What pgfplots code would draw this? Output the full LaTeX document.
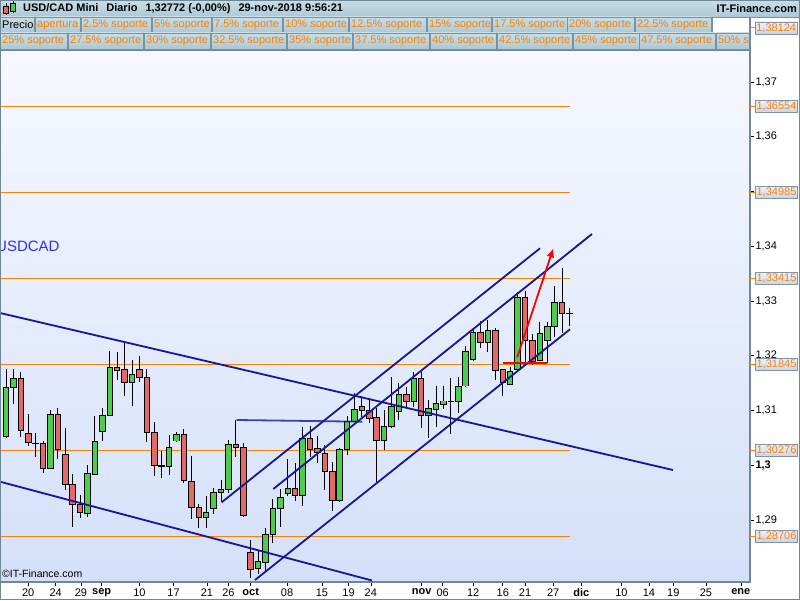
\documentclass[border=0pt]{standalone}
\usepackage{pgfplots}
\pgfplotsset{compat=1.18}
\usepackage{pgfplotstable}
\usepackage{fontspec}
\setmainfont{Liberation Sans}
\usetikzlibrary{arrows.meta}

\definecolor{upg}{RGB}{76,205,76}
\definecolor{dnr}{RGB}{228,104,104}
\definecolor{trend}{RGB}{22,22,150}
\definecolor{lvl}{RGB}{255,128,0}
\definecolor{hdrtop}{RGB}{200,222,230}
\definecolor{hdrbot}{RGB}{172,200,214}
\definecolor{hdrline}{RGB}{120,146,160}
\definecolor{axgray}{RGB}{112,136,150}
\definecolor{bgtop}{RGB}{246,248,254}
\definecolor{bgbot}{RGB}{212,224,250}
\definecolor{usdblue}{RGB}{50,50,230}
\definecolor{boxline}{RGB}{128,148,168}
\definecolor{boxtop}{RGB}{238,242,252}
\definecolor{boxbot}{RGB}{200,212,236}

% daily candles, i = trading day (0 = 1 oct 2018)
\pgfplotstableread{
i o h l c
-33 1.30521 1.31753 1.30503 1.31424
-32 1.31424 1.31753 1.31119 1.31588
-27 1.29944 1.31009 1.29926 1.30931
-22 1.29122 1.30005 1.29049 1.29853
-21 1.29835 1.30900 1.29822 1.30443
-20 1.30620 1.31040 1.30448 1.30918
-19 1.30912 1.32087 1.30900 1.31789
-16 1.31515 1.31922 1.31088 1.31667
-11 1.29986 1.30553 1.29822 1.30328
-10 1.30443 1.30607 1.30434 1.30565
-6 1.29049 1.29438 1.28859 1.29141
-5 1.29214 1.29579 1.29110 1.29506
-4 1.29506 1.29731 1.29323 1.29553
-3 1.29561 1.30461 1.29488 1.30383
1 1.28118 1.28434 1.28008 1.28238
2 1.28227 1.28848 1.28068 1.28739
3 1.28739 1.29384 1.28574 1.29214
4 1.29214 1.29561 1.28878 1.29415
5 1.29488 1.30114 1.29444 1.29579
7 1.29444 1.30693 1.29261 1.30492
12 1.29353 1.30310 1.29334 1.30291
13 1.30291 1.30905 1.30187 1.30795
14 1.30795 1.31314 1.30790 1.31022
18 1.30448 1.31009 1.30279 1.30717
19 1.30704 1.31617 1.30686 1.31082
20 1.30978 1.31497 1.30827 1.31301
22 1.31161 1.31698 1.31069 1.31588
24 1.30918 1.31192 1.30492 1.31040
25 1.31027 1.31453 1.30704 1.31119
26 1.31119 1.31453 1.31022 1.31174
28 1.31161 1.31617 1.30949 1.31448
29 1.31448 1.32184 1.31435 1.32087
30 1.31935 1.32501 1.31904 1.32428
32 1.32246 1.32653 1.32074 1.32470
35 1.31479 1.31800 1.31466 1.31721
36 1.31740 1.33170 1.31709 1.33068
39 1.31922 1.32622 1.31910 1.32410
40 1.32288 1.32622 1.31862 1.32543
41 1.32543 1.33280 1.32348 1.32976
}\up

\pgfplotstableread{
i o h l c
-31 1.31588 1.31698 1.30521 1.30626
-30 1.30584 1.30936 1.30352 1.30419
-29 1.30401 1.30584 1.30145 1.30398
-28 1.30401 1.30448 1.29864 1.29944
-26 1.30931 1.31040 1.30109 1.30279
-25 1.30200 1.30675 1.29548 1.29652
-24 1.29652 1.29835 1.28878 1.29287
-23 1.29292 1.29457 1.29031 1.29141
-18 1.31789 1.32063 1.31557 1.31727
-17 1.31753 1.32257 1.31270 1.31515
-15 1.31753 1.31995 1.31526 1.31606
-14 1.31606 1.31753 1.30419 1.30602
-13 1.30602 1.30784 1.29809 1.29992
-12 1.29992 1.30260 1.29762 1.29988
-9 1.30565 1.30662 1.29681 1.29718
-8 1.29700 1.30169 1.29018 1.29232
-7 1.29225 1.29287 1.28848 1.29049
-2 1.30383 1.30827 1.30156 1.30328
-1 1.30328 1.30401 1.29060 1.29091
0 1.28410 1.28635 1.27941 1.28105
6 1.29579 1.30036 1.29353 1.29444
8 1.30492 1.30722 1.30156 1.30297
9 1.30310 1.30534 1.30036 1.30237
10 1.30218 1.30370 1.29548 1.29882
11 1.29895 1.30054 1.29170 1.29353
15 1.31082 1.31265 1.30887 1.30996
16 1.30996 1.31223 1.30777 1.30858
17 1.30876 1.31040 1.29700 1.30448
21 1.31296 1.31435 1.31069 1.31161
23 1.31588 1.31698 1.30686 1.30918
27 1.31174 1.31588 1.30565 1.31170
31 1.32428 1.32635 1.32147 1.32246
33 1.32470 1.32501 1.31557 1.31740
34 1.31740 1.31745 1.31270 1.31508
37 1.33068 1.33183 1.31831 1.32288
38 1.32288 1.32392 1.31831 1.31904
42 1.32976 1.33597 1.32421 1.32775
43 1.32775 1.32867 1.32543 1.32772
}\down

\tikzset{
  lbox/.style={draw=boxline, top color=boxtop, bottom color=boxbot, text=lvl,
    minimum width=42pt, minimum height=12pt, inner sep=0pt, font=\fontsize{11}{12}\selectfont},
}
\pgfplotsset{
  nomark/.style={only marks, mark=*, mark size=0pt, mark options={draw=none, fill=none}, forget plot},
  wick/.style={nomark, error bars/.cd, y dir=both, y explicit,
    error mark=none, error bar style={draw=black, line width=1pt}},
  bodyout/.style={nomark, error bars/.cd, y dir=both, y explicit,
    error mark=none, error bar style={draw=black, line width=6.5pt}},
  bodyin/.style={nomark, error bars/.cd, y dir=both, y explicit,
    error mark=none, error bar style={draw=#1, line width=4.5pt}},
}

\begin{document}
\begin{tikzpicture}[x=1pt, y=1pt, font=\fontsize{11}{13}\selectfont]
\useasboundingbox (0,0) rectangle (800,600);
\fill[white] (0,0) rectangle (800,600);

\begin{axis}[
  at={(0pt,18pt)}, anchor=south west,
  scale only axis, width=750pt, height=532pt,
  xmin=-33.81, xmax=67.34, ymin=1.278676, ymax=1.375845,
  clip=false,
  axis background/.style={shade, top color=bgtop, bottom color=bgbot},
  axis line style={axgray, line width=1.2pt},
  tick style={black, line width=0.6pt},
  tick align=outside, major tick length=4pt,
  xtick pos=left, ytick pos=right, yticklabel pos=right,
  xtick={-30,-26.3,-22.9,-20.1,-15,-10.4,-5.9,-3,0,4.9,9.6,13.2,16.2,23.06,25.9,30,34,37,40.8,44.6,50,53.7,57,61.4,66.1},
  xticklabels={20,24,29,\textbf{sep},10,17,21,26,\textbf{oct},08,15,19,24,\textbf{nov},06,12,16,21,27,\textbf{dic},10,14,19,25,\textbf{ene}},
  ytick={1.29,1.30,1.31,1.32,1.33,1.34,1.35,1.36,1.37},
  yticklabels={{1,29},{\textbf{1,3}},{1,31},{1,32},{1,33},{1,34},{},{1,36},{1,37}},
  ticklabel style={font=\fontsize{11}{13}\selectfont, text=black},
  yticklabel style={anchor=west, xshift=-2pt},
  xticklabel style={yshift=1pt},
]

% support levels
\addplot[lvl, line width=1pt] coordinates {(-33.81,1.36554) (43,1.36554)};
\addplot[lvl, line width=1pt] coordinates {(-33.81,1.34985) (43,1.34985)};
\addplot[lvl, line width=1pt] coordinates {(-33.81,1.33415) (43,1.33415)};
\addplot[lvl, line width=1pt] coordinates {(-33.81,1.31845) (43,1.31845)};
\addplot[lvl, line width=1pt] coordinates {(-33.81,1.30276) (43,1.30276)};
\addplot[lvl, line width=1pt] coordinates {(-33.81,1.28706) (43,1.28706)};

% wicks
\addplot[wick] table[x=i, y expr={(\thisrow{h}+\thisrow{l})/2}, y error expr={(\thisrow{h}-\thisrow{l})/2}] {\up};
\addplot[wick] table[x=i, y expr={(\thisrow{h}+\thisrow{l})/2}, y error expr={(\thisrow{h}-\thisrow{l})/2}] {\down};
% bodies
\addplot[bodyout] table[x=i, y expr={(\thisrow{o}+\thisrow{c})/2}, y error expr={abs(\thisrow{c}-\thisrow{o})/2+0.00009}] {\up};
\addplot[bodyout] table[x=i, y expr={(\thisrow{o}+\thisrow{c})/2}, y error expr={abs(\thisrow{c}-\thisrow{o})/2+0.00009}] {\down};
\addplot[bodyin=upg] table[x=i, y expr={(\thisrow{o}+\thisrow{c})/2}, y error expr={max(abs(\thisrow{c}-\thisrow{o})/2-0.00009,0)}] {\up};
\addplot[bodyin=dnr] table[x=i, y expr={(\thisrow{o}+\thisrow{c})/2}, y error expr={max(abs(\thisrow{c}-\thisrow{o})/2-0.00009,0)}] {\down};

% trend lines
\addplot[trend, line width=1.8pt] coordinates {(-33.81,1.32781) (56.95,1.29913)};
\addplot[trend, line width=1.8pt] coordinates {(-33.81,1.296995) (16.36,1.27895)};
\addplot[trend, line width=1.8pt, opacity=0.8] coordinates {(-1.89,1.308265) (15.05,1.307954)};
\addplot[trend, line width=1.8pt] coordinates {(-3.91,1.293233) (39.02,1.339626)};
\addplot[trend, line width=1.8pt] coordinates {(3.05,1.295662) (46.03,1.342237)};
\addplot[trend, line width=1.8pt] coordinates {(0.58,1.279041) (43.06,1.324831)};

% red target
\addplot[red, line width=1.8pt] coordinates {(34.07,1.31873) (39.92,1.31873)};
\addplot[red, line width=1.8pt, -{Latex[length=9pt,width=8pt]}] coordinates {(35.95,1.319717) (40.81,1.339626)};

% level labels
\draw[lvl, line width=1pt] (axis cs:67.34,1.36554) -- ++(5pt,0pt) node[lbox, anchor=west] {1,36554};
\draw[lvl, line width=1pt] (axis cs:67.34,1.34985) -- ++(5pt,0pt) node[lbox, anchor=west] {1,34985};
\draw[lvl, line width=1pt] (axis cs:67.34,1.33415) -- ++(5pt,0pt) node[lbox, anchor=west] {1,33415};
\draw[lvl, line width=1pt] (axis cs:67.34,1.31845) -- ++(5pt,0pt) node[lbox, anchor=west] {1,31845};
\draw[lvl, line width=1pt] (axis cs:67.34,1.30276) -- ++(5pt,0pt) node[lbox, anchor=west] {1,30276};
\draw[lvl, line width=1pt] (axis cs:67.34,1.28706) -- ++(5pt,0pt) node[lbox, anchor=west] {1,28706};
\end{axis}

% text on the chart
\node[anchor=west, inner sep=0pt, text=usdblue, font=\fontsize{15}{16}\selectfont] at (-4,354) {USDCAD};
\node[anchor=west, inner sep=0pt, font=\fontsize{10.5}{12}\selectfont] at (2,26) {©IT-Finance.com};

% header row 1
\shade[top color=hdrtop, bottom color=hdrbot] (0,583) rectangle (800,600);
\draw[hdrline] (0,583) -- (800,583);
\draw[black, line width=0.6pt] (6,585) -- (6,597);
\filldraw[fill=dnr, draw=black, line width=0.5pt] (3.5,587) rectangle (8.5,594);
\draw[black, line width=0.6pt] (13,587) -- (13,599);
\filldraw[fill=upg, draw=black, line width=0.5pt] (10.5,589) rectangle (15.5,597);
\node[anchor=west, inner sep=0pt, font=\bfseries\fontsize{11}{12}\selectfont] at (23,591.5)
  {USD/CAD Mini\hspace{8pt}Diario\hspace{8pt}1,32772 (-0,00\%)\hspace{8pt}29-nov-2018 9:56:21};
\node[anchor=east, inner sep=0pt, font=\bfseries\fontsize{11}{12}\selectfont] at (797,591.5) {IT-Finance.com};

% header rows 2 and 3
\draw[hdrline, top color=hdrtop, bottom color=hdrbot] (0,567) rectangle (34,583);
\node[anchor=west, inner sep=0pt] at (2,575) {Precio};
\foreach \a/\b/\t in {35/80/apertura, 81/151/2.5\% soporte, 152/211/5\% soporte, 212/282/7.5\% soporte,
   283/348/10\% soporte, 349/426/12.5\% soporte, 427/491/15\% soporte, 492/567/17.5\% soporte,
   567/634/20\% soporte, 635/711/22.5\% soporte}{
  \draw[hdrline, top color=hdrtop, bottom color=hdrbot] (\a,567) rectangle (\b,583);
  \node[anchor=west, inner sep=0pt, text=lvl] at (\a+2,575) {\t};
}
\draw[hdrline, fill=white] (712,567) rectangle (750,583);
\foreach \a/\b/\t in {0/67/25\% soporte, 68/143/27.5\% soporte, 144/210/30\% soporte, 211/286/32.5\% soporte,
   287/352/35\% soporte, 353/429/37.5\% soporte, 430/496/40\% soporte, 497/572/42.5\% soporte,
   573/639/45\% soporte, 639/715/47.5\% soporte}{
  \draw[hdrline, top color=hdrtop, bottom color=hdrbot] (\a,551) rectangle (\b,567);
  \node[anchor=west, inner sep=0pt, text=lvl] at (\a+2,559) {\t};
}
\begin{scope}
  \clip (716,550) rectangle (750,568);
  \draw[hdrline, top color=hdrtop, bottom color=hdrbot] (716,551) rectangle (760,567);
  \node[anchor=west, inner sep=0pt, text=lvl] at (718,559) {50\% soporte};
\end{scope}
\draw[axgray, line width=1.2pt] (750,551) -- (750,583);
\draw[lvl, line width=1pt] (750,572) -- (755,572);
\node[lbox, anchor=west] at (755,572) {1,38124};

\draw[axgray, line width=1pt] (0.5,0.5) rectangle (799.5,599.5);
\end{tikzpicture}
\end{document}
